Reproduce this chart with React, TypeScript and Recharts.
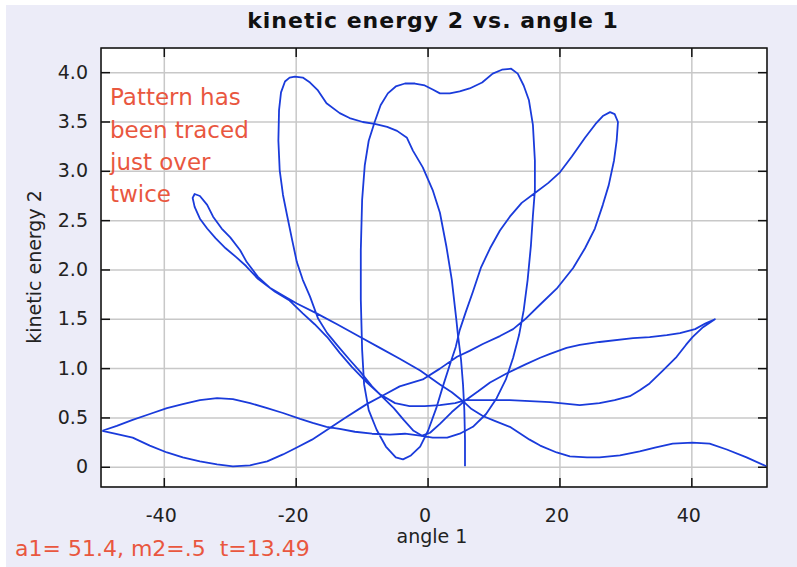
import { CartesianGrid, Line, LineChart, ReferenceArea, XAxis, YAxis } from "recharts";

type Pt = [number, number]; // [angle 1 (deg), kinetic energy 2]

// first pass: released at rest from 51.4 deg, swings out to the thin loop upper left
const releaseSwing: Pt[] = [
  [51.3, 0.01], [48.3, 0.1], [45.3, 0.18], [42.7, 0.24], [40.1, 0.25], [37.1, 0.24],
  [34.4, 0.2], [32.1, 0.16], [29.1, 0.12], [26.0, 0.1], [24.1, 0.1], [21.5, 0.11],
  [19.5, 0.15], [17.0, 0.22], [15.4, 0.28], [12.4, 0.41], [10.1, 0.47], [8.3, 0.52],
  [6.6, 0.59], [5.3, 0.67], [3.6, 0.76], [1.8, 0.84], [-1.2, 0.98], [-4.3, 1.1],
  [-7.3, 1.21], [-10.3, 1.32], [-13.8, 1.45], [-16.9, 1.56], [-19.9, 1.66], [-22.0, 1.74],
  [-24.0, 1.82], [-25.8, 1.93], [-27.5, 2.08], [-28.5, 2.2], [-30.0, 2.33], [-31.3, 2.42],
  [-32.6, 2.54], [-33.5, 2.66], [-34.6, 2.75], [-35.4, 2.77],
];

const leftLobeReturn: Pt[] = [
  [-35.4, 2.77], [-35.7, 2.73], [-35.4, 2.64], [-34.6, 2.52], [-33.5, 2.42], [-32.2, 2.32],
  [-30.7, 2.22], [-29.1, 2.13], [-27.6, 2.04], [-25.8, 1.91], [-23.2, 1.78], [-21.0, 1.69],
  [-19.0, 1.56], [-17.2, 1.45], [-15.3, 1.32], [-13.4, 1.16], [-11.6, 1.02], [-9.3, 0.86],
  [-7.3, 0.74], [-5.0, 0.65], [-2.8, 0.62], [-0.5, 0.62], [1.8, 0.63], [4.1, 0.65],
  [5.7, 0.68], [7.9, 0.68], [12.4, 0.68], [18.5, 0.66], [23.0, 0.63], [26.0, 0.65],
  [28.3, 0.68], [30.6, 0.72], [32.1, 0.78], [33.6, 0.85], [35.6, 0.98], [37.7, 1.12],
  [39.1, 1.24], [40.1, 1.32], [41.7, 1.42], [43.5, 1.5],
];

const rightLobeBack: Pt[] = [
  [43.5, 1.5], [42.1, 1.46], [40.5, 1.4], [38.2, 1.36], [36.2, 1.34], [33.6, 1.32],
  [31.1, 1.31], [26.0, 1.27], [23.0, 1.24], [21.0, 1.21], [18.5, 1.15], [17.0, 1.11],
  [14.7, 1.04], [11.9, 0.95], [9.4, 0.86], [7.6, 0.77], [5.7, 0.68], [3.6, 0.56],
  [1.8, 0.44], [0.3, 0.35], [-0.9, 0.32], [-2.2, 0.37], [-3.7, 0.48], [-5.2, 0.6],
  [-6.9, 0.71], [-8.5, 0.82], [-10.3, 0.97], [-11.9, 1.09],
];

const tallLeftLoop: Pt[] = [
  [-11.9, 1.09], [-13.7, 1.23], [-15.3, 1.36], [-16.7, 1.51], [-17.9, 1.73], [-19.0, 1.9],
  [-19.9, 2.08], [-20.6, 2.3], [-21.4, 2.56], [-22.0, 2.76], [-22.5, 3.01], [-22.7, 3.31],
  [-22.6, 3.62], [-22.3, 3.8], [-21.7, 3.91], [-21.0, 3.95], [-20.2, 3.96], [-19.0, 3.95],
  [-17.9, 3.9], [-16.7, 3.82], [-15.4, 3.69], [-13.4, 3.59], [-11.9, 3.54], [-9.9, 3.5],
  [-8.1, 3.48], [-6.2, 3.45], [-4.7, 3.41], [-3.2, 3.34], [-2.3, 3.21], [-0.8, 3.04],
  [0.7, 2.81], [1.8, 2.58], [2.8, 2.23], [3.6, 1.9], [4.3, 1.49], [4.5, 1.36],
  [5.0, 1.09], [5.3, 0.84], [5.5, 0.58], [5.6, 0.28], [5.6, 0.01],
];

// second pass
const lowerWave: Pt[] = [
  [-49.4, 0.37], [-47.5, 0.34], [-44.8, 0.3], [-42.2, 0.22], [-39.6, 0.15], [-37.2, 0.1],
  [-34.6, 0.06], [-32.0, 0.03], [-29.6, 0.01], [-27.0, 0.02], [-24.4, 0.06], [-22.0, 0.13],
  [-19.9, 0.2], [-17.6, 0.28], [-15.3, 0.38], [-12.6, 0.5], [-9.3, 0.64], [-6.5, 0.74],
  [-4.3, 0.82], [-0.8, 0.89], [1.8, 1.0], [4.4, 1.12], [6.3, 1.18], [8.3, 1.25],
  [10.9, 1.33], [12.9, 1.4], [14.7, 1.5], [17.0, 1.65], [19.5, 1.81], [22.0, 2.02],
  [23.8, 2.22], [25.3, 2.42], [26.5, 2.66], [27.4, 2.86], [28.2, 3.11], [28.6, 3.31],
  [28.8, 3.5], [28.3, 3.58], [27.6, 3.6],
];

const topRightLobe: Pt[] = [
  [27.6, 3.6], [26.5, 3.56], [25.4, 3.48], [23.8, 3.34], [21.8, 3.15], [20.0, 2.99],
  [18.2, 2.88], [16.2, 2.78], [14.2, 2.68], [12.4, 2.54], [10.9, 2.4], [9.4, 2.22],
  [8.0, 2.02], [6.8, 1.78], [5.7, 1.57], [4.8, 1.39], [4.2, 1.22], [3.3, 1.04],
  [2.2, 0.81], [1.3, 0.61], [0.0, 0.37], [-1.2, 0.21], [-2.6, 0.12], [-3.8, 0.08],
];

const centreLoop: Pt[] = [
  [-3.8, 0.08], [-4.9, 0.1], [-6.4, 0.21], [-7.8, 0.38], [-9.0, 0.58], [-9.7, 0.84],
  [-10.0, 1.19], [-10.2, 1.7], [-10.2, 2.2], [-10.0, 2.71], [-9.6, 3.06], [-9.0, 3.31],
  [-8.1, 3.5], [-7.2, 3.67], [-6.1, 3.79], [-4.9, 3.86], [-3.5, 3.89], [-2.0, 3.89],
  [-0.5, 3.87], [0.7, 3.83], [1.8, 3.79], [3.3, 3.79], [4.8, 3.81], [6.3, 3.84],
  [8.2, 3.9], [9.8, 3.99], [11.2, 4.03], [12.6, 4.04], [13.6, 3.99], [14.5, 3.87],
  [15.3, 3.72], [15.9, 3.47], [16.2, 3.11], [16.2, 2.81], [15.9, 2.55], [15.6, 2.25],
  [15.1, 1.9], [14.5, 1.59], [13.8, 1.34], [12.9, 1.11], [11.8, 0.89], [10.4, 0.7],
  [8.8, 0.54], [6.8, 0.41], [4.8, 0.34], [2.9, 0.3], [0.7, 0.3],
];

const returnWave: Pt[] = [
  [0.7, 0.3], [-1.2, 0.32], [-3.5, 0.34], [-5.8, 0.33], [-8.5, 0.34], [-11.1, 0.36],
  [-13.4, 0.39], [-15.4, 0.41], [-17.5, 0.45], [-19.4, 0.49], [-22.0, 0.55], [-24.4, 0.6],
  [-27.0, 0.65], [-29.6, 0.69], [-32.0, 0.7], [-34.6, 0.68], [-37.2, 0.64], [-39.6, 0.6],
  [-42.2, 0.54], [-44.8, 0.48], [-47.2, 0.42], [-49.4, 0.37],
];

const angleTicks = [-40, -20, 0, 20, 40];
const energyTicks = [0, 0.5, 1, 1.5, 2, 2.5, 3, 3.5, 4];
const angleDomain: [number, number] = [-49.6, 51.4];
const energyDomain: [number, number] = [-0.2, 4.25];

const WIDTH = 797;
const HEIGHT = 567;
const PLOT = { left: 101, top: 48, right: 767, bottom: 487 };
const FONT = "'DejaVu Sans', sans-serif";
const TRACE = "#1a3bdb";
const NOTE = "#e9573f";

const chain = (...parts: Pt[][]) =>
  parts.flatMap((p, i) => (i === 0 ? p : p.slice(1))).map(([x, y]) => ({ x, y }));

const firstPass = chain(releaseSwing, leftLobeReturn, rightLobeBack, tallLeftLoop);
const secondPass = chain(lowerWave, topRightLobe, centreLoop, returnWave);

function AngleTick({ x, payload }: any) {
  return (
    <g>
      <line x1={x} x2={x} y1={PLOT.bottom} y2={PLOT.bottom - 9} stroke="#111" strokeWidth={1.5} />
      <line x1={x} x2={x} y1={PLOT.top} y2={PLOT.top + 9} stroke="#111" strokeWidth={1.5} />
      <text x={x - 3} y={PLOT.bottom + 35} textAnchor="middle" fontFamily={FONT} fontSize={19} fill="#222">
        {payload.value}
      </text>
    </g>
  );
}

function EnergyTick({ y, payload }: any) {
  const v = payload.value as number;
  return (
    <g>
      <line x1={PLOT.left} x2={PLOT.left + 9} y1={y} y2={y} stroke="#111" strokeWidth={1.5} />
      <line x1={PLOT.right} x2={PLOT.right - 9} y1={y} y2={y} stroke="#111" strokeWidth={1.5} />
      <text x={88} y={y + 6} textAnchor="end" fontFamily={FONT} fontSize={19} fill="#222">
        {v === 0 ? "0" : v.toFixed(1)}
      </text>
    </g>
  );
}

export default function App() {
  return (
    <div style={{ position: "absolute", left: 0, top: 0, width: WIDTH, height: HEIGHT, background: "#fff" }}>
      <div style={{ position: "absolute", left: 6, top: 5, right: 0, bottom: 0, background: "#ececf8" }} />
      <div style={{ position: "absolute", left: 0, top: 0 }}>
        <LineChart
          width={WIDTH}
          height={HEIGHT}
          margin={{ top: PLOT.top, right: WIDTH - PLOT.right, bottom: 50, left: 41 }}
        >
          <CartesianGrid fill="#fff" stroke="#c8c8c8" strokeWidth={1.5} />
          <XAxis
            dataKey="x"
            type="number"
            domain={angleDomain}
            ticks={angleTicks}
            allowDataOverflow
            height={30}
            axisLine={false}
            tickLine={false}
            tickSize={0}
            tickMargin={0}
            tick={<AngleTick />}
          />
          <YAxis
            dataKey="y"
            type="number"
            domain={energyDomain}
            ticks={energyTicks}
            allowDataOverflow
            width={60}
            axisLine={false}
            tickLine={false}
            tickSize={0}
            tickMargin={0}
            tick={<EnergyTick />}
          />
          <Line data={firstPass} dataKey="y" type="linear" dot={false} stroke={TRACE} strokeWidth={1.8} strokeLinejoin="round" isAnimationActive={false} />
          <Line data={secondPass} dataKey="y" type="linear" dot={false} stroke={TRACE} strokeWidth={1.8} strokeLinejoin="round" isAnimationActive={false} />
          <ReferenceArea
            x1={angleDomain[0]}
            x2={angleDomain[1]}
            y1={energyDomain[0]}
            y2={energyDomain[1]}
            fill="none"
            fillOpacity={0}
            stroke="#111"
            strokeWidth={1.5}
          />
        </LineChart>
      </div>
      <svg
        width={WIDTH}
        height={HEIGHT}
        style={{ position: "absolute", left: 0, top: 0, pointerEvents: "none" }}
      >
        <text x={433} y={28} textAnchor="middle" fontFamily={FONT} fontWeight="bold" fontSize={22} letterSpacing={1} fill="#111">
          kinetic energy 2 vs. angle 1
        </text>
        <text x={432} y={543} textAnchor="middle" fontFamily={FONT} fontSize={19} fill="#222">
          angle 1
        </text>
        <text transform="translate(41,267) rotate(-90)" textAnchor="middle" fontFamily={FONT} fontSize={19} fill="#222">
          kinetic energy 2
        </text>
        <g fontFamily={FONT} fontSize={23} fill={NOTE}>
          <text x={110} y={105}>Pattern has</text>
          <text x={110} y={137.5}>been traced</text>
          <text x={110} y={170}>just over</text>
          <text x={110} y={202}>twice</text>
        </g>
        <text x={15} y={556} fontFamily={FONT} fontSize={22} fill={NOTE} xmlSpace="preserve" style={{ whiteSpace: "pre" }}>
          {"a1= 51.4, m2=.5  t=13.49"}
        </text>
      </svg>
    </div>
  );
}
